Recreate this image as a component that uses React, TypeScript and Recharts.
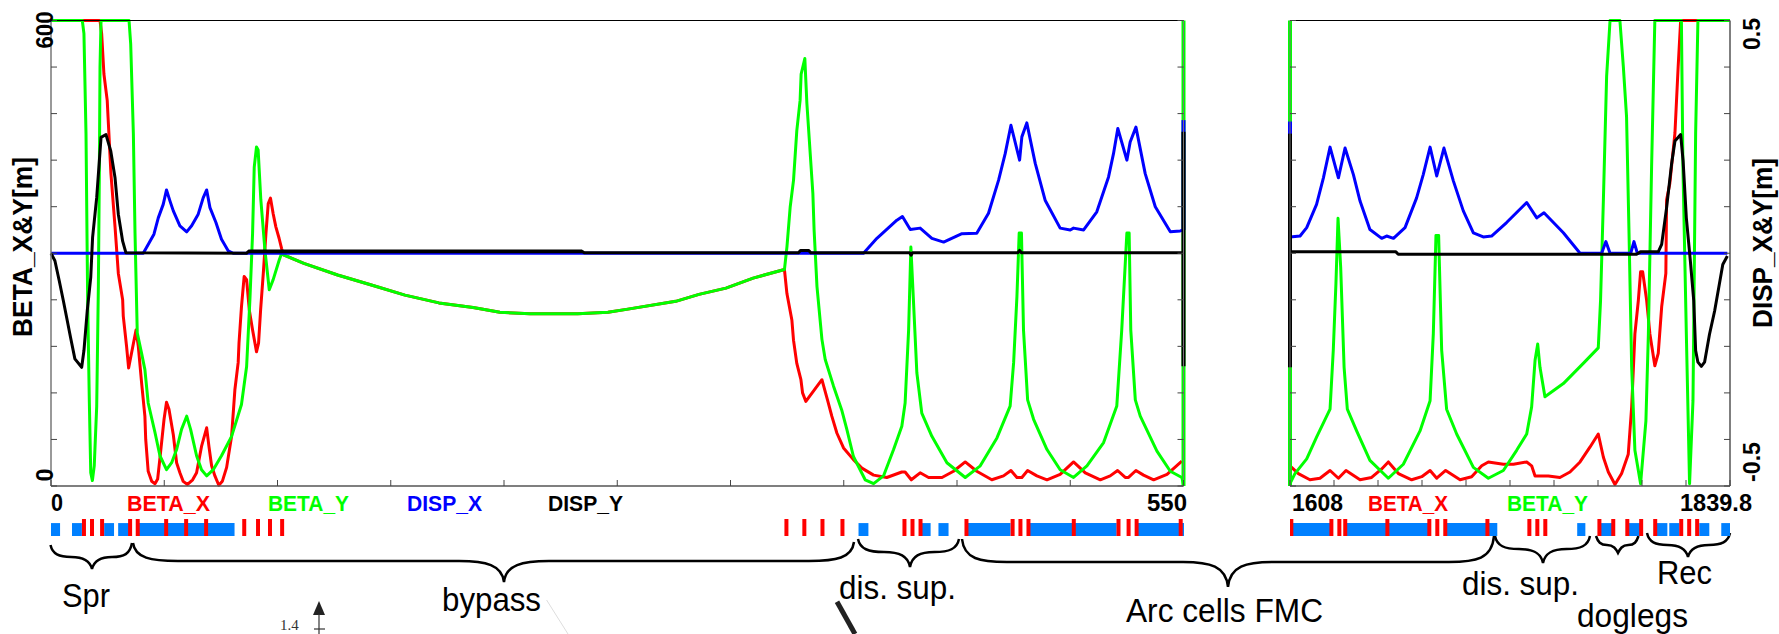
import { LineChart, Line, XAxis, YAxis, ReferenceArea, ReferenceLine } from 'recharts';

type Pair = [number, number];

// optics: [s in m, value]
const bypassBeta: Pair[] = [
	[112.9, 298], [122.8, 287], [139.2, 272], [155.6, 259], [171.9, 246], [188.4, 236], [205, 230],
	[218, 224], [232.6, 222], [255.8, 222], [270.5, 224], [280.2, 228], [303.4, 238], [314.7, 247],
	[327.8, 255], [341, 268], [356.2, 279],
];

const leftBetaX: Pair[] = [
	[0, 600], [23.8, 600], [24.6, 583], [25.7, 531], [27.3, 497], [27.7, 476], [29.1, 403], [31.1, 334],
	[32.7, 274], [34.8, 240], [35.1, 219], [36.7, 180], [37.7, 152], [41.3, 201], [42.4, 180], [44, 133],
	[45.6, 90], [46, 60], [47.2, 19], [48.9, 6], [50.5, 3], [51.8, 9], [53.2, 43], [54.9, 86], [56.1, 108],
	[57.3, 99], [59.4, 66], [61, 30], [62.6, 17], [64.2, 6], [66.3, 2], [68.8, 8], [70.7, 17], [73.1, 51],
	[75.6, 75], [76.7, 51], [78, 26], [79.6, 13], [81.5, 1], [83.2, 6], [85.3, 24], [87.7, 64], [89.3, 124],
	[90.9, 159], [91.3, 184], [92.5, 231], [93.8, 270], [95, 266], [96.3, 227], [97.9, 201], [99.8, 173],
	[100.8, 184], [101.8, 227], [103.1, 274], [104.4, 326], [105.5, 364], [106.6, 371], [107.9, 351],
	[109.2, 334], [110.8, 319], [112, 306],
	...bypassBeta,
	[357.4, 248], [359.8, 214], [360.6, 188], [362.2, 158], [364.2, 137], [365, 120], [366.6, 109],
	[374.4, 137], [377.1, 111], [379.2, 90], [381.7, 68], [384.9, 49], [389.7, 34], [393.8, 23], [399.5, 14],
	[405.9, 11], [413.2, 18], [414.8, 18], [417.8, 8], [422.1, 17], [426.2, 11], [432.7, 11], [438.3, 19],
	[444, 31], [449.6, 19], [456.9, 8], [462.6, 13], [466.2, 20], [469.1, 11], [471.5, 11], [474.3, 20],
	[478.8, 13], [483.7, 8], [490.1, 15], [496.6, 31], [502.3, 17], [509.6, 8], [514.4, 13], [518, 20],
	[521.7, 11], [523.3, 11], [526.9, 20], [530.6, 14], [535.5, 8], [542, 15], [549.2, 32],
];

const leftBetaY: Pair[] = [
	[0, 600], [15.2, 600], [16, 583], [17, 454], [17.8, 240], [18.6, 111], [19.3, 17], [20.1, 7], [21, 26],
	[22.2, 103], [23, 257], [23.5, 411], [23.8, 540], [24.3, 600], [37.9, 600], [38.7, 570], [40, 454],
	[40.8, 326], [41.9, 197], [44, 171], [45.6, 150], [47.2, 107], [50.5, 69], [52.9, 39], [56.1, 21],
	[58.6, 30], [61, 47], [63.4, 73], [65.9, 90], [67.8, 73], [70.7, 39], [73.1, 21], [75.6, 13], [78.8, 21],
	[82.8, 39], [87.7, 64], [92.5, 105], [95, 154], [96.6, 240], [97.9, 326], [98.7, 411], [99.8, 437],
	[100.6, 433], [101.9, 369], [103.9, 304], [106, 253], [107.9, 266], [110.8, 291], [112.3, 302],
	...bypassBeta,
	[357.4, 308], [359, 360], [360.6, 394], [362.2, 458], [363.8, 497], [364.3, 531], [366.1, 551], [367.1, 493],
	[370, 377], [370.6, 330], [372, 257], [374.4, 189], [376, 163], [380, 129], [384, 98], [386.5, 73],
	[389.7, 38], [395.4, 8], [399.5, 3], [404.3, 13], [409.2, 47], [413.2, 77], [414.8, 107], [416.5, 201],
	[417.6, 308], [418.6, 253], [420.5, 146], [422.9, 94], [427.8, 64], [435.1, 30], [444, 11], [451.3, 26],
	[459.4, 62], [465.8, 103], [467.5, 159], [469.1, 244], [470.2, 326], [471.3, 326], [472.3, 201], [474.3, 111],
	[477.2, 86], [483.7, 47], [490.1, 21], [496.6, 11], [503.1, 26], [511.2, 56], [517.6, 103], [520, 201],
	[522.5, 326], [523.6, 326], [524.4, 201], [526.6, 111], [529, 90], [537.1, 45], [543.6, 19], [549.2, 11],
	[550, 2],
];

const leftDispX: Pair[] = [
	[0, 0], [44.8, 0], [47.2, 0.019], [50, 0.041], [52.1, 0.076], [54.5, 0.105], [56.1, 0.136], [57.8, 0.112],
	[59.4, 0.091], [62.6, 0.059], [65.9, 0.046], [68.3, 0.059], [71.5, 0.084], [73.9, 0.119], [75.6, 0.136],
	[77.2, 0.098], [80.1, 0.066], [82.8, 0.03], [86.1, 0.005], [88.5, 0], [394.6, 0], [401.1, 0.032],
	[410.8, 0.071], [413.5, 0.079], [417.3, 0.051], [422.1, 0.054], [427.8, 0.032], [433.5, 0.024], [442.4, 0.042],
	[449.6, 0.043], [455.3, 0.086], [460.2, 0.157], [463.4, 0.214], [466.2, 0.275], [470.4, 0.2], [471.5, 0.25],
	[473.9, 0.28], [478, 0.193], [482.8, 0.114], [490.1, 0.054], [495, 0.05], [496.6, 0.054], [501.5, 0.05],
	[507.9, 0.089], [513.6, 0.164], [516, 0.214], [518.1, 0.268], [522.5, 0.2], [524.1, 0.239], [526.9, 0.271],
	[531.4, 0.171], [536.3, 0.1], [543.6, 0.046], [548.4, 0.048], [550, 0.05],
];

const leftDispY: Pair[] = [
	[0, 0], [1.9, -0.016], [4, -0.059], [6, -0.102], [7.6, -0.138], [9.5, -0.181], [11.6, -0.227], [14.9, -0.245],
	[16, -0.209], [17.6, -0.124], [19.3, -0.052], [20.2, 0.034], [22.2, 0.12], [24.3, 0.249], [26.7, 0.255],
	[29, 0.22], [31.1, 0.162], [32.7, 0.084], [34.8, 0.026], [36.4, 0.001], [95, 0], [95.8, 0.004], [258, 0.004],
	[259, 0.001], [363, 0.001], [364, 0.006], [368, 0.006], [369, 0.001], [417, 0.001], [417.7, -0.004],
	[418.4, 0.001], [469.5, 0.001], [470.4, 0.006], [471.3, 0.001], [549.2, 0.001], [550, 0],
];

const rightBetaX: Pair[] = [
	[1608, 26], [1612.4, 16], [1618.5, 8], [1623.8, 10], [1629.1, 20], [1633.5, 10], [1637.5, 20], [1644.9, 8],
	[1651, 11], [1656.3, 22], [1659.8, 31], [1665.1, 16], [1672.1, 8], [1677.4, 12], [1681.8, 20], [1685.3, 10],
	[1690, 20], [1697.6, 8], [1703.7, 12], [1709, 26], [1712.5, 31], [1720.4, 28], [1725.7, 28], [1732.7, 31],
	[1735.3, 26], [1737.1, 13], [1744.1, 13], [1750.2, 11], [1755.5, 18], [1760.8, 31], [1766, 50], [1770.4, 67],
	[1773.1, 37], [1775.7, 18], [1779.2, 2], [1782.7, 16], [1786.2, 41], [1788, 102], [1789.7, 196], [1791.5, 239],
	[1792.7, 276], [1793.8, 276], [1795.9, 239], [1797.6, 196], [1800.2, 155], [1802, 171], [1803.8, 231], [1806, 274],
	[1806.4, 369], [1808.1, 390], [1810.8, 455], [1812.5, 541], [1813.8, 600], [1839.8, 600],
];

const rightBetaY: Pair[] = [
	[1608, 3], [1610.6, 16], [1616.8, 35], [1622, 63], [1629.1, 99], [1630.8, 175], [1632.2, 261],
	[1633.3, 345], [1634.7, 282], [1636.5, 153], [1638.2, 99], [1643.1, 71], [1650.1, 33], [1659.8, 10], [1667.7, 28],
	[1676.5, 71], [1681.8, 110], [1683.5, 196], [1684.9, 323], [1686.3, 323], [1687.9, 175], [1690.5, 99], [1695.8, 67],
	[1704.6, 24], [1712.5, 10], [1720.4, 20], [1727.4, 46], [1732.7, 67], [1735.3, 102], [1737.1, 162], [1738.5, 183],
	[1739.7, 153], [1742.3, 115], [1752, 132], [1762.5, 158], [1770.4, 178], [1771.6, 239], [1773.1, 369], [1774.8, 528],
	[1776.6, 600], [1781.8, 600], [1783.6, 541], [1785.3, 476], [1786.6, 326], [1788, 153], [1789.7, 46], [1792.7, 3],
	[1795.5, 84], [1796.8, 196], [1798.5, 412], [1800.2, 600], [1814.2, 600], [1815, 412], [1816.8, 196], [1818.5, 3],
	[1820.3, 110], [1821.7, 455], [1822.9, 600], [1839.8, 600],
];

const rightDispX: Pair[] = [
	[1608, 0.035], [1613.3, 0.037], [1616.8, 0.055], [1622, 0.105], [1625.6, 0.162], [1629.1, 0.228],
	[1633.5, 0.162], [1637, 0.226], [1641.4, 0.169], [1644.9, 0.112], [1650.1, 0.051], [1656.3, 0.032], [1658.9, 0.037],
	[1662.5, 0.032], [1668.6, 0.055], [1674.7, 0.119], [1678.2, 0.169], [1681.8, 0.228], [1685.3, 0.166], [1689.1, 0.226],
	[1694.1, 0.155], [1699.3, 0.091], [1704.6, 0.044], [1709.8, 0.035], [1714.2, 0.037], [1722.1, 0.066], [1732.7, 0.109],
	[1738, 0.076], [1741.8, 0.087], [1752, 0.044], [1760.8, 0], [1772.2, 0], [1774.4, 0.025], [1776.6, 0], [1787.5, 0],
	[1789.2, 0.025], [1791, 0], [1838.4, 0],
];

const rightDispY: Pair[] = [
	[1608, 0.003], [1663.8, 0.003], [1665, -0.002], [1790.6, -0.002], [1792.6, 0.003],
	[1802, 0.003], [1803.8, 0.019], [1806.4, 0.098], [1809, 0.191], [1810.8, 0.241], [1813.8, 0.255], [1815.1, 0.198],
	[1816.8, 0.076], [1818.9, -0.016], [1820.7, -0.102], [1821.7, -0.209], [1822.9, -0.234], [1824.7, -0.243], [1826.4, -0.234],
	[1829, -0.174], [1831.7, -0.124], [1834.2, -0.066], [1836, -0.024], [1838.4, -0.006],
];

// thick stretch of DISP_Y through the bypass
const bypassDispY: Pair[] = [[95.8, 0.004], [258, 0.004]];

// the jumps at the cut in the ring, drawn heavier at both panel edges
const leftEdgeBetaY: Pair[] = [[550, 0], [550, 600]];
const leftEdgeDispX: Pair[] = [[550, 0.05], [550, 0.286]];
const leftEdgeDispY: Pair[] = [[550, 0.261], [550, -0.243]];
const rightEdgeBetaY: Pair[] = [[1608, 600], [1608, 0]];
const rightEdgeDispX: Pair[] = [[1608, 0.283], [1608, 0.035]];
const rightEdgeDispY: Pair[] = [[1608, 0.257], [1608, -0.245]];

const leftXTicks = [0, 55, 110, 165, 220, 275, 330, 385, 440, 495, 550];
const rightXTicks = [1608, 1631.18, 1654.36, 1677.54, 1700.72, 1723.9, 1747.08, 1770.26, 1793.44, 1816.62, 1839.8];
const betaTicks = [0, 60, 120, 180, 240, 300, 360, 420, 480, 540, 600];
const dispTicks = [-0.5, -0.4, -0.3, -0.2, -0.1, 0, 0.1, 0.2, 0.3, 0.4, 0.5];

// lattice strip: magnet blocks as [from, to], bends as positions
const leftQuads: Pair[] = [
	[0, 4.4], [10.2, 15], [25.8, 30.6], [32.6, 38.4], [42.4, 89.1], [392, 396.8], [422, 427], [430.8, 435.7],
	[444.4, 465.8], [474.5, 517.3], [527, 550],
];
const leftBends = [
	16, 19.9, 24.8, 38.4, 42.1, 55.9, 65.6, 75.3, 93.8, 100.5, 106.3, 112.2, 357, 365.7, 374.5, 384.2, 414.3, 418.2, 422.1,
	444.4, 466.8, 470.6, 474.5, 496.5, 518.2, 523.1, 527, 548.4,
];
const rightQuads: Pair[] = [
	[1608, 1629.8], [1637.1, 1659.3], [1659.3, 1681.4], [1689.8, 1717.2], [1759.3, 1763.6], [1771, 1778.3], [1785.7, 1793],
	[1800.4, 1806.8], [1807.8, 1813.1], [1823.6, 1828.9], [1835.2, 1839.8],
];
const rightBends = [
	1608.7, 1629.8, 1634, 1637.1, 1659.3, 1681.4, 1685.6, 1689.8, 1712, 1734.1, 1738.3, 1742.5, 1771, 1778.3, 1785.7, 1793,
	1800.4, 1814.1, 1818.3, 1822.5,
];

const toPoints = (pairs: Pair[]) => pairs.map(([s, v]) => ({ s, v }));

const RED = '#ff0000';
const GREEN = '#00ff00';
const BLUE = '#0000ff';
const BLACK = '#000000';
const STRIP_BLUE = '#0080ff';
const SANS = '"Liberation Sans", Arial, sans-serif';
const TICK_LEN = 6;
const LINE_WIDTH = 3;
const EDGE_WIDTH = 4;

function bottomTick({ x, y }: any) {
	return <line x1={x} x2={x} y1={y} y2={y - TICK_LEN} stroke="#444" />;
}

function topTick({ x, y }: any) {
	return <line x1={x} x2={x} y1={y} y2={y + TICK_LEN} stroke="#444" />;
}

function rotated(text: string, x: number, y: number, length: number) {
	return (
		<text x={x} y={y} transform={`rotate(-90 ${x} ${y})`} textAnchor="middle" fontFamily={SANS} fontWeight="bold" fontSize={24} textLength={length} lengthAdjust="spacingAndGlyphs">
			{text}
		</text>
	);
}

function betaTick({ x, y, payload }: any) {
	return (
		<g>
			<line x1={x} x2={x + TICK_LEN} y1={y} y2={y} stroke="#444" />
			{payload.value === 600 && rotated('600', x + 2, 30, 37)}
			{payload.value === 0 && rotated('0', x + 2, 475, 13)}
		</g>
	);
}

function plainLeftTick({ x, y }: any) {
	return <line x1={x} x2={x + TICK_LEN} y1={y} y2={y} stroke="#444" />;
}

function plainRightTick({ x, y }: any) {
	return <line x1={x} x2={x - TICK_LEN} y1={y} y2={y} stroke="#444" />;
}

function dispTick({ x, y, payload }: any) {
	return (
		<g>
			<line x1={x} x2={x - TICK_LEN} y1={y} y2={y} stroke="#444" />
			{payload.value === 0.5 && rotated('0.5', x + 30, 34, 32)}
			{payload.value === -0.5 && rotated('-0.5', x + 30, 462, 40)}
		</g>
	);
}

function Strip({ left, width, domain, quads, bends }: { left: number; width: number; domain: [number, number]; quads: Pair[]; bends: number[] }) {
	return (
		<div style={{ position: 'absolute', left, top: 519 }}>
			<LineChart width={width} height={17} margin={{ top: 0, right: 0, bottom: 0, left: 0 }} data={[{ s: domain[0], y: 0 }, { s: domain[1], y: 1 }]}>
				<XAxis hide type="number" dataKey="s" domain={domain} />
				<YAxis hide type="number" domain={[0, 1]} />
				{quads.map(([from, to]) => (
					<ReferenceArea key={from} x1={from} x2={to} y1={0} y2={0.76} fill={STRIP_BLUE} fillOpacity={1} stroke="none" ifOverflow="extendDomain" />
				))}
				{bends.map((s) => (
					<ReferenceLine key={s} x={s} stroke={RED} strokeWidth={4} ifOverflow="extendDomain" />
				))}
			</LineChart>
		</div>
	);
}

function brace(x1: number, y1: number, tipX: number, tipY: number, x2: number, y2: number, level: number) {
	const lead = Math.min(45, (tipX - x1) / 2);
	const leadR = Math.min(45, (x2 - tipX) / 2);
	return [
		`M${x1} ${y1}`,
		`C${x1 + 2} ${level - 3} ${x1 + lead * 0.4} ${level} ${x1 + lead} ${level}`,
		`L${tipX - lead} ${level}`,
		`C${tipX - lead * 0.4} ${level} ${tipX - 2} ${level + 4} ${tipX} ${tipY}`,
		`C${tipX + 2} ${level + 4} ${tipX + leadR * 0.4} ${level} ${tipX + leadR} ${level}`,
		`L${x2 - leadR} ${level}`,
		`C${x2 - leadR * 0.4} ${level} ${x2 - 2} ${level - 3} ${x2} ${y2}`,
	].join(' ');
}

const braces = [
	brace(50.5, 545, 92, 569, 132, 543, 557),
	brace(133, 543, 504, 582, 854, 542, 561),
	brace(858, 539, 910, 567, 959, 539, 552),
	brace(962, 539, 1228, 587, 1494, 536, 562),
	brace(1495, 536, 1543, 563, 1590, 536, 549),
	brace(1596, 536, 1618, 553, 1638.5, 536, 545),
	brace(1647, 533, 1688, 557, 1730, 533, 545),
];

function BoldLabel({ x, length, color = BLACK, size = 22, children }: { x: number; length: number; color?: string; size?: number; children: string }) {
	return (
		<text x={x} y={511} fontFamily={SANS} fontWeight="bold" fontSize={size} fill={color} textLength={length} lengthAdjust="spacingAndGlyphs">
			{children}
		</text>
	);
}

function Note({ x, y, length, children }: { x: number; y: number; length: number; children: string }) {
	return (
		<text x={x} y={y} fontFamily={SANS} fontSize={33} fill={BLACK} textLength={length} lengthAdjust="spacingAndGlyphs">
			{children}
		</text>
	);
}

function Annotations() {
	return (
		<svg width={1779} height={634} style={{ position: 'absolute', left: 0, top: 0 }}>
			<text x={32} y={247} transform="rotate(-90 32 247)" textAnchor="middle" fontFamily={SANS} fontWeight="bold" fontSize={27} textLength={180} lengthAdjust="spacingAndGlyphs">
				BETA_X&amp;Y[m]
			</text>
			<text x={1772} y={243} transform="rotate(-90 1772 243)" textAnchor="middle" fontFamily={SANS} fontWeight="bold" fontSize={27} textLength={170} lengthAdjust="spacingAndGlyphs">
				DISP_X&amp;Y[m]
			</text>

			<BoldLabel x={51} length={12} size={24}>0</BoldLabel>
			<BoldLabel x={127} length={83} color={RED}>BETA_X</BoldLabel>
			<BoldLabel x={268} length={81} color={GREEN}>BETA_Y</BoldLabel>
			<BoldLabel x={407} length={75} color={BLUE}>DISP_X</BoldLabel>
			<BoldLabel x={548} length={75}>DISP_Y</BoldLabel>
			<BoldLabel x={1147} length={40} size={24}>550</BoldLabel>
			<BoldLabel x={1292} length={51} size={24}>1608</BoldLabel>
			<BoldLabel x={1368} length={80} color={RED}>BETA_X</BoldLabel>
			<BoldLabel x={1507} length={81} color={GREEN}>BETA_Y</BoldLabel>
			<BoldLabel x={1680} length={72} size={24}>1839.8</BoldLabel>

			{braces.map((d) => (
				<path key={d} d={d} fill="none" stroke={BLACK} strokeWidth={2.5} />
			))}

			<Note x={62} y={607} length={48}>Spr</Note>
			<Note x={442} y={611} length={99}>bypass</Note>
			<Note x={839} y={599} length={117}>dis. sup.</Note>
			<Note x={1126} y={622} length={197}>Arc cells FMC</Note>
			<Note x={1462} y={595} length={117}>dis. sup.</Note>
			<Note x={1657} y={584} length={55}>Rec</Note>
			<Note x={1577} y={627} length={111}>doglegs</Note>

			{/* the next figure of the page, cut off by the crop */}
			<path d="M319 601 L325 615 L313 615 Z" fill="#222" />
			<line x1={319} x2={319} y1={614} y2={634} stroke="#333" strokeWidth={1.2} />
			<line x1={314} x2={325} y1={629} y2={629} stroke="#333" strokeWidth={1.2} />
			<text x={280} y={630} fontFamily='"Liberation Serif", serif' fontSize={15} fill="#333">1.4</text>
			<line x1={546.6} y1={600} x2={568} y2={634} stroke="#ddd" strokeWidth={1} />
			<line x1={837} y1={601.7} x2={855} y2={634} stroke="#222" strokeWidth={5} />
		</svg>
	);
}

function trace(pairs: Pair[], yAxisId: string, stroke: string, strokeWidth = LINE_WIDTH) {
	return (
		<Line yAxisId={yAxisId} data={toPoints(pairs)} dataKey="v" type="linear" stroke={stroke} strokeWidth={strokeWidth} strokeLinejoin="round" dot={false} isAnimationActive={false} />
	);
}

export default function App() {
	return (
		<div style={{ position: 'absolute', left: 0, top: 0, width: 1779, height: 634, background: '#fff', overflow: 'hidden' }}>
			<Annotations />

			<div style={{ position: 'absolute', left: 0, top: 0 }}>
				<LineChart width={1240} height={520} margin={{ top: 19.5, right: 55.5, bottom: 33, left: 0 }}>
					<XAxis type="number" dataKey="s" domain={[0, 550]} ticks={leftXTicks} interval={0} height={1} tickSize={0} tickMargin={0} tickLine={false} tick={bottomTick} axisLine={{ stroke: '#555', strokeWidth: 1.5 }} />
					<XAxis xAxisId="top" orientation="top" type="number" domain={[0, 550]} ticks={leftXTicks} interval={0} height={1} tickSize={0} tickMargin={0} tickLine={false} tick={topTick} axisLine={{ stroke: BLACK }} />
					<YAxis yAxisId="beta" type="number" domain={[0, 600]} ticks={betaTicks} interval={0} width={51} tickSize={0} tickMargin={0} tickLine={false} tick={betaTick} axisLine={{ stroke: '#777', strokeWidth: 1.5 }} />
					<YAxis yAxisId="disp" orientation="right" type="number" domain={[-0.5, 0.5]} ticks={dispTicks} interval={0} width={1} tickSize={0} tickMargin={0} tickLine={false} tick={plainRightTick} axisLine={{ stroke: '#777' }} />
					{trace(leftBetaX, 'beta', RED)}
					{trace(leftBetaY, 'beta', GREEN)}
					{trace(leftEdgeBetaY, 'beta', GREEN, EDGE_WIDTH)}
					{trace(leftDispX, 'disp', BLUE)}
					{trace(leftEdgeDispX, 'disp', BLUE, EDGE_WIDTH)}
					{trace(leftDispY, 'disp', BLACK)}
					{trace(leftEdgeDispY, 'disp', BLACK, EDGE_WIDTH)}
					{trace(bypassDispY, 'disp', BLACK, 3.8)}
				</LineChart>
			</div>

			<div style={{ position: 'absolute', left: 1240, top: 0 }}>
				<LineChart width={539} height={520} margin={{ top: 19.5, right: 0, bottom: 33, left: 0 }}>
					<XAxis type="number" dataKey="s" domain={[1608, 1839.8]} ticks={rightXTicks} interval={0} height={1} tickSize={0} tickMargin={0} tickLine={false} tick={bottomTick} axisLine={{ stroke: '#555', strokeWidth: 1.5 }} />
					<XAxis xAxisId="top" orientation="top" type="number" domain={[1608, 1839.8]} ticks={rightXTicks} interval={0} height={1} tickSize={0} tickMargin={0} tickLine={false} tick={topTick} axisLine={{ stroke: BLACK }} />
					<YAxis yAxisId="beta" type="number" domain={[0, 600]} ticks={betaTicks} interval={0} width={50} tickSize={0} tickMargin={0} tickLine={false} tick={plainLeftTick} axisLine={{ stroke: '#777' }} />
					<YAxis yAxisId="disp" orientation="right" type="number" domain={[-0.5, 0.5]} ticks={dispTicks} interval={0} width={49} tickSize={0} tickMargin={0} tickLine={false} tick={dispTick} axisLine={{ stroke: '#555', strokeWidth: 1.5 }} />
					{trace(rightBetaX, 'beta', RED)}
					{trace(rightBetaY, 'beta', GREEN)}
					{trace(rightEdgeBetaY, 'beta', GREEN, EDGE_WIDTH)}
					{trace(rightDispX, 'disp', BLUE)}
					{trace(rightEdgeDispX, 'disp', BLUE, EDGE_WIDTH)}
					{trace(rightDispY, 'disp', BLACK)}
					{trace(rightEdgeDispY, 'disp', BLACK, EDGE_WIDTH)}
				</LineChart>
			</div>

			<Strip left={51} width={1133} domain={[0, 550]} quads={leftQuads} bends={leftBends} />
			<Strip left={1290} width={440} domain={[1608, 1839.8]} quads={rightQuads} bends={rightBends} />
		</div>
	);
}
